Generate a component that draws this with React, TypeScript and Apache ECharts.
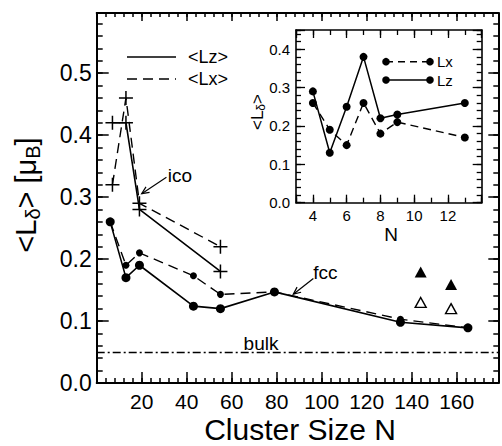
import React, { useEffect, useRef } from "react";
import * as echarts from "echarts";

// ---------- Main chart data ----------
const circleN = [6, 13, 19, 43, 55, 79, 135, 165];
const circleLz = [0.26, 0.17, 0.19, 0.124, 0.12, 0.147, 0.098, 0.089];
const circleLx = [0.26, 0.19, 0.21, 0.173, 0.143, 0.147, 0.103, 0.089];
const icoN = [7, 13, 19, 55];
const icoLz = [0.42, 0.42, 0.28, 0.18];
const icoLx = [0.32, 0.46, 0.29, 0.22];
const triangleN = [144, 157.5];
const triangleFilled = [0.179, 0.159];
const triangleOpen = [0.13, 0.12];
const bulkLevel = 0.05;

// ---------- Inset data ----------
const insetN = [4, 5, 6, 7, 8, 9, 13];
const insetLx = [0.26, 0.19, 0.15, 0.26, 0.18, 0.21, 0.17];
const insetLz = [0.29, 0.13, 0.25, 0.38, 0.22, 0.23, 0.26];

// ---------- Tick labels ----------
const mainXTickLabels = ["20", "40", "60", "80", "100", "120", "140", "160"];
const mainYTickLabels = ["0.0", "0.1", "0.2", "0.3", "0.4", "0.5"];
const insetXTickLabels = ["4", "6", "8", "10", "12"];
const insetYTickLabels = ["0.0", "0.1", "0.2", "0.3", "0.4"];

const FONT = "'Liberation Sans', Arial, Helvetica, sans-serif";
const BLACK = "#000";

const pair = (xs: number[], ys: number[]) => xs.map((x, i) => [x, ys[i]]);

const fmtInt = (labels: string[]) => (v: number) => {
  const r = Math.round(v);
  return Math.abs(v - r) < 1e-6 && labels.includes(String(r)) ? String(r) : "";
};
const fmtDec = (labels: string[]) => (v: number) => {
  const r = Math.round(v * 10);
  const s = (r / 10).toFixed(1);
  return Math.abs(v * 10 - r) < 1e-6 && labels.includes(s) ? s : "";
};

function axis(o: any) {
  const {
    grid,
    pos,
    min,
    max,
    interval,
    splitNumber,
    line,
    lineWidth,
    tickLen,
    tickWidth,
    label,
  } = o;
  const a: any = {
    type: "value",
    gridIndex: grid,
    position: pos,
    min,
    max,
    axisLine: {
      show: !!line,
      onZero: false,
      lineStyle: { color: BLACK, width: lineWidth || 2 },
    },
    axisTick: {
      show: true,
      inside: true,
      length: tickLen,
      lineStyle: { color: BLACK, width: tickWidth || 1.5 },
    },
    axisLabel: label
      ? { show: true, color: BLACK, fontFamily: FONT, ...label }
      : { show: false },
    splitLine: { show: false },
    minorTick: { show: false },
  };
  if (interval !== undefined) a.interval = interval;
  if (splitNumber !== undefined) a.splitNumber = splitNumber;
  return a;
}

const crossSymbol = "path://M0,7L14,7M7,0L7,14";

function buildOption() {
  const xAxis = [
    // main
    axis({ grid: 0, pos: "bottom", min: 0, max: 178.5, interval: 20, line: true, tickLen: 11, label: { fontSize: 21, margin: 8, formatter: fmtInt(mainXTickLabels) } }),
    axis({ grid: 0, pos: "top", min: 0, max: 178.5, interval: 20, line: true, tickLen: 8 }),
    axis({ grid: 0, pos: "bottom", min: 0, max: 178.5, interval: 4, line: false, tickLen: 5 }),
    axis({ grid: 0, pos: "top", min: 0, max: 178.5, interval: 4, line: false, tickLen: 4 }),
    // inset
    axis({ grid: 1, pos: "bottom", min: 3, max: 14, splitNumber: 5, line: true, lineWidth: 1.6, tickLen: 8, tickWidth: 1.3, label: { fontSize: 15, margin: 5, formatter: fmtInt(insetXTickLabels) } }),
    axis({ grid: 1, pos: "top", min: 3, max: 14, splitNumber: 5, line: true, lineWidth: 1.6, tickLen: 8, tickWidth: 1.3 }),
    axis({ grid: 1, pos: "bottom", min: 3, max: 14, interval: 1, line: false, tickLen: 5, tickWidth: 1.3 }),
    axis({ grid: 1, pos: "top", min: 3, max: 14, interval: 1, line: false, tickLen: 5, tickWidth: 1.3 }),
  ];
  const yAxis = [
    axis({ grid: 0, pos: "left", min: 0, max: 0.597, interval: 0.1, line: true, tickLen: 12, label: { fontSize: 23, margin: 5, formatter: fmtDec(mainYTickLabels) } }),
    axis({ grid: 0, pos: "right", min: 0, max: 0.597, interval: 0.1, line: true, tickLen: 10 }),
    axis({ grid: 0, pos: "left", min: 0, max: 0.597, interval: 0.02, line: false, tickLen: 6 }),
    axis({ grid: 0, pos: "right", min: 0, max: 0.597, interval: 0.02, line: false, tickLen: 5 }),
    axis({ grid: 1, pos: "left", min: 0, max: 0.45, interval: 0.1, line: true, lineWidth: 1.6, tickLen: 9, tickWidth: 1.3, label: { fontSize: 15, margin: 6, formatter: fmtDec(insetYTickLabels) } }),
    axis({ grid: 1, pos: "right", min: 0, max: 0.45, interval: 0.1, line: true, lineWidth: 1.6, tickLen: 9, tickWidth: 1.3 }),
    axis({ grid: 1, pos: "left", min: 0, max: 0.45, interval: 0.02, line: false, tickLen: 5, tickWidth: 1.3 }),
    axis({ grid: 1, pos: "right", min: 0, max: 0.45, interval: 0.02, line: false, tickLen: 5, tickWidth: 1.3 }),
  ];

  const lineBase = {
    type: "line",
    xAxisIndex: 0,
    yAxisIndex: 0,
    silent: true,
    emphasis: { disabled: true },
  };

  const series: any[] = [
    {
      ...lineBase,
      name: "Lz clusters",
      data: pair(circleN, circleLz),
      symbol: "circle",
      symbolSize: 9,
      lineStyle: { color: BLACK, width: 1.6 },
      itemStyle: { color: BLACK },
      markLine: {
        silent: true,
        symbol: "none",
        label: { show: false },
        lineStyle: { color: BLACK, width: 1.3, type: [8, 3, 2, 3] },
        data: [{ yAxis: bulkLevel }],
      },
    },
    {
      ...lineBase,
      name: "Lx clusters",
      data: pair(circleN, circleLx),
      symbol: "circle",
      symbolSize: 7,
      lineStyle: { color: BLACK, width: 1.4, type: [10, 6] },
      itemStyle: { color: BLACK },
    },
    {
      ...lineBase,
      name: "Lz ico",
      data: pair(icoN, icoLz),
      symbol: crossSymbol,
      symbolSize: 14,
      lineStyle: { color: BLACK, width: 1.6 },
      itemStyle: { color: BLACK, borderColor: BLACK, borderWidth: 1.5 },
    },
    {
      ...lineBase,
      name: "Lx ico",
      data: pair(icoN, icoLx),
      symbol: crossSymbol,
      symbolSize: 14,
      lineStyle: { color: BLACK, width: 1.4, type: [10, 6] },
      itemStyle: { color: BLACK, borderColor: BLACK, borderWidth: 1.5 },
    },
    {
      type: "scatter",
      xAxisIndex: 0,
      yAxisIndex: 0,
      silent: true,
      data: pair(triangleN, triangleFilled),
      symbol: "triangle",
      symbolSize: [12, 11],
      itemStyle: { color: BLACK, opacity: 1 },
    },
    {
      type: "scatter",
      xAxisIndex: 0,
      yAxisIndex: 0,
      silent: true,
      data: pair(triangleN, triangleOpen),
      symbol: "triangle",
      symbolSize: [11, 10],
      itemStyle: { color: "#fff", borderColor: BLACK, borderWidth: 1.4, opacity: 1 },
    },
    // inset
    {
      type: "line",
      xAxisIndex: 4,
      yAxisIndex: 4,
      silent: true,
      data: pair(insetN, insetLx),
      symbol: "circle",
      symbolSize: 8,
      lineStyle: { color: BLACK, width: 1.4, type: [8, 5] },
      itemStyle: { color: BLACK },
    },
    {
      type: "line",
      xAxisIndex: 4,
      yAxisIndex: 4,
      silent: true,
      data: pair(insetN, insetLz),
      symbol: "circle",
      symbolSize: 8,
      lineStyle: { color: BLACK, width: 1.5 },
      itemStyle: { color: BLACK },
    },
  ];

  return {
    animation: false,
    backgroundColor: "#fff",
    textStyle: { fontFamily: FONT, color: BLACK },
    grid: [
      { left: 96.7, right: 3.7, top: 13, bottom: 63 },
      { left: 296, right: 20.3, top: 30, bottom: 243.3 },
    ],
    xAxis,
    yAxis,
    series,
  };
}

function arrow(chart: any, from: number[], to: number[]) {
  const a = chart.convertToPixel({ xAxisIndex: 0, yAxisIndex: 0 }, from) as number[];
  const b = chart.convertToPixel({ xAxisIndex: 0, yAxisIndex: 0 }, to) as number[];
  const ang = Math.atan2(a[1] - b[1], a[0] - b[0]);
  const L = 8;
  const s = 0.42;
  const h1 = [b[0] + L * Math.cos(ang + s), b[1] + L * Math.sin(ang + s)];
  const h2 = [b[0] + L * Math.cos(ang - s), b[1] + L * Math.sin(ang - s)];
  return [
    { type: "line", silent: true, shape: { x1: a[0], y1: a[1], x2: b[0], y2: b[1] }, style: { stroke: BLACK, lineWidth: 1.2 } },
    { type: "polyline", silent: true, shape: { points: [h1, b, h2] }, style: { stroke: BLACK, lineWidth: 1.2, fill: null } },
  ];
}

function dataText(chart: any, at: number[], text: string, size: number) {
  const p = chart.convertToPixel({ xAxisIndex: 0, yAxisIndex: 0 }, at) as number[];
  return {
    type: "text",
    silent: true,
    x: p[0],
    y: p[1],
    style: { text, fill: BLACK, font: `${size}px ${FONT}`, align: "left", verticalAlign: "middle" },
  };
}

function buildGraphic(chart: any) {
  const g: any[] = [];
  // annotations
  g.push(dataText(chart, [31.6, 0.335], "ico", 19));
  g.push(...arrow(chart, [31.0, 0.332], [20.0, 0.3055]));
  g.push(dataText(chart, [96.2, 0.1787], "fcc", 19));
  g.push(...arrow(chart, [96.3, 0.1686], [87.4, 0.1433]));
  g.push(dataText(chart, [65.3, 0.0644], "bulk", 19));

  // main legend
  g.push({ type: "line", silent: true, shape: { x1: 127, y1: 57, x2: 176, y2: 57 }, style: { stroke: BLACK, lineWidth: 1.6 } });
  g.push({ type: "text", silent: true, x: 188, y: 57, style: { text: "<Lz>", fill: BLACK, font: `18px ${FONT}`, align: "left", verticalAlign: "middle" } });
  g.push({ type: "line", silent: true, shape: { x1: 127, y1: 79, x2: 176, y2: 79 }, style: { stroke: BLACK, lineWidth: 1.4, lineDash: [10, 6] } });
  g.push({ type: "text", silent: true, x: 188, y: 79, style: { text: "<Lx>", fill: BLACK, font: `18px ${FONT}`, align: "left", verticalAlign: "middle" } });

  // inset legend
  const legendRow = (y: number, dashed: boolean, label: string) => {
    g.push({ type: "line", silent: true, shape: { x1: 386, y1: y, x2: 430, y2: y }, style: { stroke: BLACK, lineWidth: 1.4, lineDash: dashed ? [7, 5] : null } });
    g.push({ type: "circle", silent: true, shape: { cx: 386, cy: y, r: 3.8 }, style: { fill: BLACK } });
    g.push({ type: "circle", silent: true, shape: { cx: 430, cy: y, r: 3.8 }, style: { fill: BLACK } });
    g.push({ type: "text", silent: true, x: 437, y, style: { text: label, fill: BLACK, font: `15px ${FONT}`, align: "left", verticalAlign: "middle" } });
  };
  legendRow(61.7, true, "Lx");
  legendRow(80, false, "Lz");

  // axis titles
  g.push({
    type: "text",
    silent: true,
    x: 300,
    y: 429,
    style: { text: "Cluster Size N", fill: BLACK, font: `30px ${FONT}`, align: "center", verticalAlign: "middle" },
  });
  g.push({
    type: "text",
    silent: true,
    x: 26,
    y: 195,
    rotation: Math.PI / 2,
    style: {
      text: "{a|<L}{s|δ}{a|> [μ}{s|B}{a|]}",
      align: "center",
      verticalAlign: "middle",
      rich: {
        a: { fontSize: 29, fontFamily: FONT, color: BLACK, lineHeight: 34 },
        s: { fontSize: 20, fontFamily: FONT, color: BLACK, lineHeight: 14, verticalAlign: "bottom" },
      },
    },
  });
  g.push({
    type: "text",
    silent: true,
    x: 257,
    y: 112,
    rotation: Math.PI / 2,
    style: {
      text: "{a|<L}{s|δ}{a|>}",
      align: "center",
      verticalAlign: "middle",
      rich: {
        a: { fontSize: 17, fontFamily: FONT, color: BLACK, lineHeight: 20 },
        s: { fontSize: 12, fontFamily: FONT, color: BLACK, lineHeight: 8, verticalAlign: "bottom" },
      },
    },
  });
  g.push({
    type: "text",
    silent: true,
    x: 391,
    y: 234,
    style: { text: "N", fill: BLACK, font: `19px ${FONT}`, align: "center", verticalAlign: "middle" },
  });
  return g;
}

export default function App() {
  const ref = useRef<HTMLDivElement>(null);
  useEffect(() => {
    document.body.style.margin = "0";
    if (!ref.current) return;
    const chart = echarts.init(ref.current, null, { renderer: "svg" });
    chart.setOption(buildOption() as any);
    chart.setOption({ graphic: buildGraphic(chart) } as any);
    return () => chart.dispose();
  }, []);
  return (
    <div
      ref={ref}
      style={{ width: 502, height: 446, position: "absolute", left: 0, top: 0 }}
    />
  );
}
